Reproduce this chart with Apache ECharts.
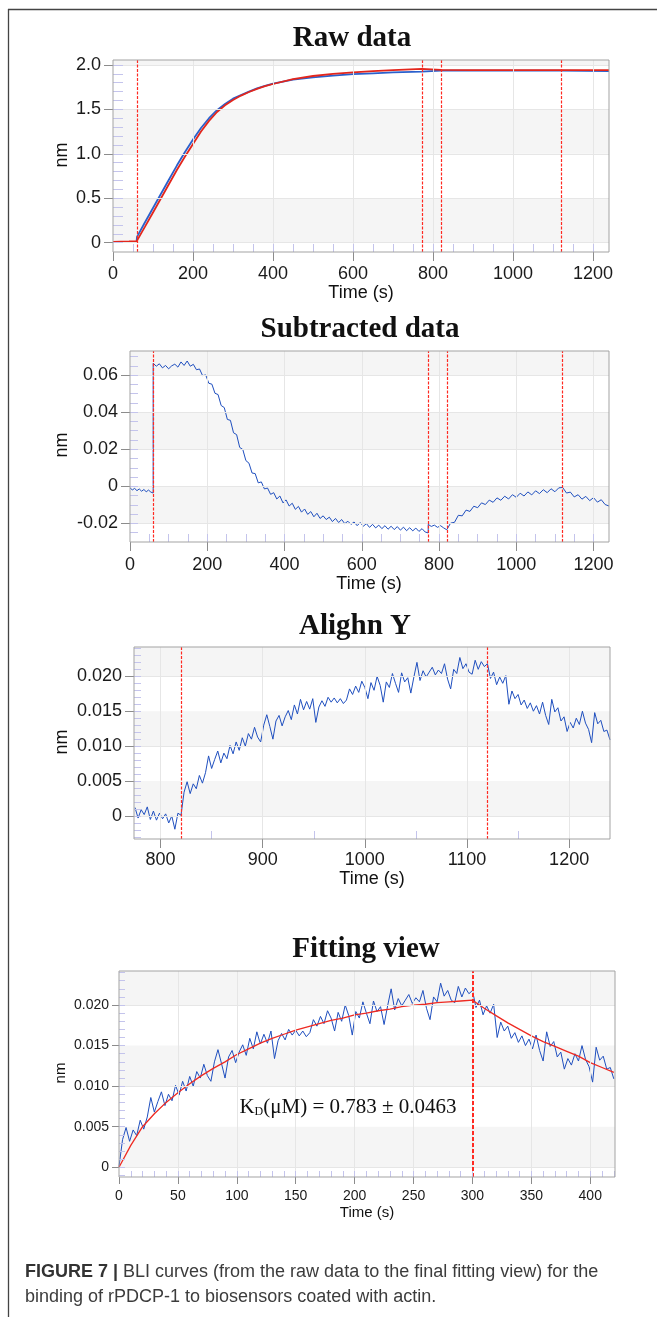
<!DOCTYPE html>
<html>
<head>
<meta charset="utf-8">
<script src="https://cdn.jsdelivr.net/npm/echarts@6/dist/echarts.min.js"></script>
<style>
  html, body { margin: 0; padding: 0; background: #fff; }
  #main { width: 657px; height: 1317px; }
</style>
</head>
<body>
<div id="main"></div>
<script>
// ---- Raw data (two sensors) ----
const rawTime = [0, 20, 40, 59, 60, 80, 100, 120, 140, 160, 180, 200, 220, 240, 260, 280, 300, 320, 340, 360,
  380, 400, 450, 500, 550, 600, 650, 700, 772, 773, 820, 900, 1000, 1120, 1240];
const rawBlue = [0.005, 0.008, 0.010, 0.012, 0.065, 0.23, 0.39, 0.55, 0.71, 0.87, 1.02, 1.16, 1.29, 1.40, 1.49, 1.56, 1.62, 1.66, 1.70, 1.735,
  1.765, 1.79, 1.835, 1.86, 1.88, 1.895, 1.905, 1.915, 1.925, 1.935, 1.935, 1.935, 1.935, 1.935, 1.93];
const rawRed = [0.010, 0.012, 0.013, 0.015, 0.020, 0.18, 0.34, 0.50, 0.66, 0.82, 0.97, 1.11, 1.25, 1.37, 1.47, 1.545, 1.605, 1.655, 1.695, 1.73,
  1.76, 1.785, 1.84, 1.875, 1.90, 1.915, 1.93, 1.94, 1.955, 1.945, 1.945, 1.94, 1.94, 1.94, 1.94];

// ---- Subtracted data, in four recorded steps (start time, sample step) ----
const subStarts = [0, 60, 772, 820];
const subSteps = [6, 8, 8, 10];
const subBaseline = [-0.0008, -0.0019, -0.0011, -0.0023, -0.0014, -0.0026, -0.0017, -0.0029, -0.0020, -0.0031, -0.0036];
const subLoading = [
  0.0664, 0.0648, 0.0661, 0.0639, 0.0652, 0.0634, 0.0650, 0.0659, 0.0643, 0.0671,
  0.0652, 0.0676, 0.0648, 0.0658, 0.0629, 0.0633, 0.0597, 0.0601, 0.0556, 0.0551,
  0.0502, 0.0495, 0.0436, 0.0425, 0.0361, 0.0356, 0.0289, 0.0279, 0.0210, 0.0199,
  0.0139, 0.0125, 0.0072, 0.0069, 0.0019, 0.0024, -0.0014, -0.0009, -0.0043, -0.0034,
  -0.0068, -0.0052, -0.0089, -0.0073, -0.0106, -0.0091, -0.0124, -0.0108, -0.0139, -0.0122,
  -0.0151, -0.0136, -0.0164, -0.0145, -0.0173, -0.0159, -0.0179, -0.0166, -0.0190, -0.0173,
  -0.0195, -0.0179, -0.0201, -0.0188, -0.0205, -0.0192, -0.0212, -0.0195, -0.0215, -0.0201,
  -0.0221, -0.0205, -0.0224, -0.0209, -0.0228, -0.0212, -0.0231, -0.0215, -0.0233, -0.0217,
  -0.0236, -0.0220, -0.0239, -0.0223, -0.0240, -0.0225, -0.0243, -0.0228, -0.0246, -0.0251];
const subBaseline2 = [-0.0205, -0.0216, -0.0209, -0.0221, -0.0212, -0.0224, -0.0234];
const subAssocDissoc = [
  -0.0233, -0.0198, -0.0194, -0.0156, -0.0159, -0.0128, -0.0135, -0.0107, -0.0115, -0.0089,
  -0.0098, -0.0074, -0.0086, -0.0062, -0.0075, -0.0053, -0.0068, -0.0045, -0.0059, -0.0037,
  -0.0052, -0.0030, -0.0046, -0.0024, -0.0039, -0.0018, -0.0034, -0.0013, -0.0029, -0.0008,
  -0.0006, -0.0036, -0.0031, -0.0057, -0.0045, -0.0069, -0.0054, -0.0077, -0.0061, -0.0085,
  -0.0072, -0.0098, -0.0106];

// ---- Align Y (775 s .. 1240 s, every 3 s) ----
const alignStart = 775;
const alignStep = 3;
const alignY = [
  0.0012, -0.0003, 0.0009, 0.0002, 0.0013, -0.0005, 0.0007, -0.0006, 0.0004, -0.0004,
  0.0003, -0.0010, 0.0000, -0.0019, 0.0004, 0.0001, 0.0034, 0.0049, 0.0032, 0.0046,
  0.0039, 0.0058, 0.0047, 0.0062, 0.0086, 0.0068, 0.0081, 0.0093, 0.0076, 0.0090,
  0.0082, 0.0101, 0.0089, 0.0106, 0.0094, 0.0112, 0.0100, 0.0118, 0.0110, 0.0127,
  0.0113, 0.0106, 0.0130, 0.0145, 0.0128, 0.0110, 0.0136, 0.0144, 0.0129, 0.0142,
  0.0151, 0.0138, 0.0159, 0.0146, 0.0167, 0.0152, 0.0164, 0.0153, 0.0168, 0.0134,
  0.0156, 0.0165, 0.0157, 0.0170, 0.0163, 0.0169, 0.0162, 0.0168, 0.0161, 0.0166,
  0.0182, 0.0174, 0.0186, 0.0177, 0.0193, 0.0184, 0.0168, 0.0191, 0.0180, 0.0200,
  0.0187, 0.0163, 0.0192, 0.0184, 0.0204, 0.0190, 0.0177, 0.0205, 0.0192, 0.0198,
  0.0176, 0.0199, 0.0220, 0.0194, 0.0208, 0.0199, 0.0206, 0.0213, 0.0202, 0.0209,
  0.0204, 0.0218, 0.0196, 0.0182, 0.0210, 0.0204, 0.0227, 0.0211, 0.0218, 0.0206,
  0.0203, 0.0223, 0.0210, 0.0221, 0.0214, 0.0218, 0.0197, 0.0206, 0.0188, 0.0199,
  0.0190, 0.0201, 0.0160, 0.0179, 0.0168, 0.0174, 0.0159, 0.0166, 0.0154, 0.0162,
  0.0150, 0.0158, 0.0146, 0.0163, 0.0144, 0.0131, 0.0167, 0.0149, 0.0155, 0.0136,
  0.0142, 0.0121, 0.0134, 0.0126, 0.0140, 0.0131, 0.0150, 0.0133, 0.0124, 0.0105,
  0.0148, 0.0132, 0.0137, 0.0121, 0.0123, 0.0109];

// ---- Fitting view: association starts at 820 s ----
const assocStart = 820;
const fitTime = [0, 10, 20, 30, 40, 50, 60, 70, 80, 90, 100, 110, 120, 130, 140, 150, 160, 170, 180, 190,
  200, 210, 220, 230, 240, 250, 260, 270, 280, 290, 300, 310, 320, 330, 340, 350, 360, 370, 380, 390,
  400, 410, 420];
const fitNm = [0.0000, 0.0027, 0.0050, 0.0066, 0.0080, 0.0092, 0.0103, 0.0113, 0.0122, 0.0130,
  0.0139, 0.0146, 0.0153, 0.0159, 0.0164, 0.0169, 0.0173, 0.0177, 0.0181, 0.0184,
  0.0188, 0.0190, 0.0193, 0.0195, 0.0198, 0.0200, 0.0201, 0.0203, 0.0204, 0.0205,
  0.0206, 0.0196, 0.0187, 0.0178, 0.0170, 0.0162, 0.0155, 0.0149, 0.0143, 0.0137,
  0.0129, 0.0123, 0.0117];

// ---- tick labels ----
const longXTicks = [0, 200, 400, 600, 800, 1000, 1200];
const alignXTicks = [800, 900, 1000, 1100, 1200];
const fitXTicks = [0, 50, 100, 150, 200, 250, 300, 350, 400];
const rawYTicks = [0, 0.5, 1, 1.5, 2];
const rawYLabels = ['0', '0.5', '1.0', '1.5', '2.0'];
const subYTicks = [-0.02, 0, 0.02, 0.04, 0.06];
const subYLabels = ['-0.02', '0', '0.02', '0.04', '0.06'];
const smallYTicks = [0, 0.005, 0.01, 0.015, 0.02];
const smallYLabels = ['0', '0.005', '0.010', '0.015', '0.020'];

// step markers (red vertical lines)
const rawSteps = [60, 773, 820, 1120];
const alignSteps = [820, 1120];
const fitSteps = [300];

const SANS = '"Liberation Sans", Arial, sans-serif';
const SERIF = '"Liberation Serif", "Times New Roman", serif';
const BAND = '#f5f5f5';
const GRIDC = '#e6e6e6';
const LAV = '#c4c4ec';
const RED = '#ff2a22';
const BLUE = '#1f4fbf';

function steps(a, b, d) {
  const out = [];
  for (let v = a; v <= b + d / 2; v += d) out.push(+v.toFixed(6));
  return out;
}
function segment(start, step, vals) {
  return vals.map((v, i) => [start + i * step, v]);
}

const subData = [].concat(
  segment(subStarts[0], subSteps[0], subBaseline),
  segment(subStarts[1], subSteps[1], subLoading),
  segment(subStarts[2], subSteps[2], subBaseline2),
  segment(subStarts[3], subSteps[3], subAssocDissoc));
const alignData = segment(alignStart, alignStep, alignY);
const fitBlue = alignY.slice((assocStart - alignStart) / alignStep).map((v, i) => [i * alignStep, v]);
const fitRed = fitTime.map((t, i) => [t, fitNm[i]]);

const panels = [
  { grid: {left: 113, top: 60, width: 496, height: 192}, x: [0, 1240], y: [-0.105, 2.055],
    xTicks: longXTicks, yTicks: rawYTicks, yLabels: rawYLabels,
    xMinor: steps(50, 1200, 50), yMinor: steps(0, 2, 0.1), minorX: 8, minorY: 10,
    gray: [[0, 0.5], [1, 1.5], [2, 2.055]], vGrid: [200, 400, 600, 800, 1000, 1200],
    marks: rawSteps, fs: 18, tick: 9, xMargin: 13, yMargin: 12,
    series: [
      {data: rawTime.map((t, i) => [t, rawBlue[i]]), color: '#2a60cc', width: 1.8},
      {data: rawTime.map((t, i) => [t, rawRed[i]]), color: '#e3261c', width: 1.8}
    ] },
  { grid: {left: 130, top: 351, width: 479, height: 191}, x: [0, 1240], y: [-0.03, 0.073],
    xTicks: longXTicks, yTicks: subYTicks, yLabels: subYLabels,
    xMinor: steps(50, 1200, 50), yMinor: steps(-0.025, 0.07, 0.005), minorX: 8, minorY: 8,
    gray: [[-0.02, 0], [0.02, 0.04], [0.06, 0.073]], vGrid: [200, 400, 600, 800, 1000, 1200],
    marks: rawSteps, fs: 18, tick: 9, xMargin: 14, yMargin: 12,
    series: [{data: subData, color: BLUE, width: 1}] },
  { grid: {left: 134, top: 647, width: 476, height: 192}, x: [774, 1240], y: [-0.0033, 0.0242],
    xTicks: alignXTicks, yTicks: smallYTicks, yLabels: smallYLabels,
    xMinor: [850, 950, 1050, 1150], yMinor: steps(-0.003, 0.024, 0.001), minorX: 8, minorY: 7,
    gray: [[0, 0.005], [0.01, 0.015], [0.02, 0.0242]], vGrid: [800, 900, 1000, 1100, 1200],
    marks: alignSteps, fs: 18, tick: 9, xMargin: 12, yMargin: 12,
    series: [{data: alignData, color: BLUE, width: 1}] },
  { grid: {left: 119, top: 971, width: 496, height: 206}, x: [0, 421], y: [-0.0012, 0.0242],
    xTicks: fitXTicks, yTicks: smallYTicks, yLabels: smallYLabels,
    xMinor: steps(10, 420, 10), yMinor: steps(-0.001, 0.024, 0.001), minorX: 6, minorY: 6,
    gray: [[0, 0.005], [0.01, 0.015], [0.02, 0.0242]], vGrid: [50, 100, 150, 200, 250, 300, 350, 400],
    marks: fitSteps, markWidth: 2, markType: [4, 2], fs: 14, tick: 7, xMargin: 12, yMargin: 10,
    series: [
      {data: fitBlue, color: BLUE, width: 1},
      {data: fitRed, color: '#ee2a22', width: 1.3}
    ] }
];

const grids = [], xAxes = [], yAxes = [], series = [];

panels.forEach((p, i) => {
  grids.push(Object.assign({show: true, z: 10, borderColor: '#a3a3a3', borderWidth: 1, backgroundColor: 'transparent'}, p.grid));
  const labelOf = (ticks, labels) => v => {
    const k = ticks.findIndex(t => Math.abs(t - v) < 1e-9);
    return k < 0 ? '' : (labels ? labels[k] : String(ticks[k]));
  };
  const common = {type: 'value', gridIndex: i, z: 8, splitLine: {show: false}, splitArea: {show: false}};
  xAxes.push(Object.assign({}, common, {
    min: p.x[0], max: p.x[1], position: 'bottom',
    axisLine: {show: false, onZero: false},
    axisTick: {show: true, length: p.tick, lineStyle: {color: '#8c8c8c'}, customValues: p.xTicks},
    axisLabel: {show: true, customValues: p.xTicks, margin: p.xMargin, fontSize: p.fs,
      fontFamily: SANS, color: '#1a1a1a', formatter: labelOf(p.xTicks)}
  }));
  xAxes.push(Object.assign({}, common, {
    min: p.x[0], max: p.x[1], position: 'bottom',
    axisLine: {show: false, onZero: false},
    axisTick: {show: true, inside: true, length: p.minorX, lineStyle: {color: LAV}, customValues: p.xMinor},
    axisLabel: {show: false}
  }));
  yAxes.push(Object.assign({}, common, {
    min: p.y[0], max: p.y[1], position: 'left',
    axisLine: {show: false, onZero: false},
    axisTick: {show: true, length: p.tick, lineStyle: {color: '#8c8c8c'}, customValues: p.yTicks},
    axisLabel: {show: true, customValues: p.yTicks, margin: p.yMargin, fontSize: p.fs,
      fontFamily: SANS, color: '#1a1a1a', formatter: labelOf(p.yTicks, p.yLabels)}
  }));
  yAxes.push(Object.assign({}, common, {
    min: p.y[0], max: p.y[1], position: 'left',
    axisLine: {show: false, onZero: false},
    axisTick: {show: true, inside: true, length: p.minorY, lineStyle: {color: LAV}, customValues: p.yMinor},
    axisLabel: {show: false}
  }));

  const xi = 2 * i, yi = 2 * i;
  // bands and grid lines
  series.push({
    type: 'line', xAxisIndex: xi, yAxisIndex: yi, data: [], silent: true, z: 1,
    markArea: {silent: true, itemStyle: {color: BAND},
      data: p.gray.map(g => [{xAxis: p.x[0], yAxis: g[0]}, {xAxis: p.x[1], yAxis: g[1]}])},
    markLine: {silent: true, symbol: ['none', 'none'], label: {show: false},
      lineStyle: {color: GRIDC, width: 1, type: 'solid'},
      data: p.yTicks.map(v => ({yAxis: v})).concat(p.vGrid.map(v => ({xAxis: v})))}
  });
  p.series.forEach((s, k) => {
    series.push({
      type: 'line', xAxisIndex: xi, yAxisIndex: yi, data: s.data, silent: true, z: 3 + k,
      showSymbol: false, symbol: 'none', animation: false,
      lineStyle: {color: s.color, width: s.width}
    });
  });
  // step markers
  series.push({
    type: 'line', xAxisIndex: xi, yAxisIndex: yi, data: [], silent: true, z: 6,
    color: RED,
    markLine: {silent: true, symbol: ['none', 'none'], label: {show: false},
      itemStyle: {color: RED},
      lineStyle: {color: RED, opacity: 1, width: p.markWidth || 1.2, type: p.markType || [3, 1.5]},
      emphasis: {disabled: true},
      data: p.marks.map(v => ({xAxis: v, lineStyle: {color: RED}}))}
  });
});

function txt(x, y, text, size, family, extra) {
  return {type: 'text', x: x, y: y, silent: true, z: 20, rotation: (extra && extra.rot) || 0,
    style: Object.assign({text: text, fontSize: size, fontFamily: family, fill: '#111',
      align: 'center', verticalAlign: 'middle', textAlign: 'center', textVerticalAlign: 'middle'},
      extra && extra.style)};
}

const graphics = [
  {type: 'line', silent: true, shape: {x1: 8, y1: 9.5, x2: 657, y2: 9.5}, style: {stroke: '#444', lineWidth: 1.3}},
  {type: 'line', silent: true, shape: {x1: 8.5, y1: 9, x2: 8.5, y2: 1317}, style: {stroke: '#444', lineWidth: 1.3}},
  txt(352, 39, 'Raw data', 29, SERIF, {style: {fontWeight: 'bold'}}),
  txt(360, 330, 'Subtracted data', 29, SERIF, {style: {fontWeight: 'bold'}}),
  txt(355, 627, 'Alighn Y', 29, SERIF, {style: {fontWeight: 'bold'}}),
  txt(366, 950, 'Fitting view', 29, SERIF, {style: {fontWeight: 'bold'}}),
  txt(361, 293, 'Time (s)', 18, SANS),
  txt(369, 584, 'Time (s)', 18, SANS),
  txt(372, 879, 'Time (s)', 18, SANS),
  txt(367, 1213, 'Time (s)', 15, SANS),
  txt(62, 155, 'nm', 18, SANS, {rot: Math.PI / 2}),
  txt(62, 445, 'nm', 18, SANS, {rot: Math.PI / 2}),
  txt(62, 742, 'nm', 18, SANS, {rot: Math.PI / 2}),
  txt(61, 1073, 'nm', 15, SANS, {rot: Math.PI / 2}),
  txt(348, 1107, '{k|K}{d|D}{r|(\u03bcM) = 0.783 \u00b1 0.0463}', 21, SERIF, {style: {
    rich: {
      k: {fontSize: 21, fontFamily: SERIF, fill: '#111', verticalAlign: 'bottom'},
      d: {fontSize: 12, fontFamily: SERIF, fill: '#111', verticalAlign: 'bottom'},
      r: {fontSize: 21, fontFamily: SERIF, fill: '#111', verticalAlign: 'bottom'}
    }}}),
  {type: 'text', x: 25, y: 1272, silent: true, z: 20, style: {
    text: '{b|FIGURE 7 |} BLI curves (from the raw data to the final fitting view) for the',
    fontSize: 18, fontFamily: SANS, fill: '#3c3c3c', align: 'left', verticalAlign: 'middle',
    textAlign: 'left', textVerticalAlign: 'middle',
    rich: {b: {fontSize: 18, fontFamily: SANS, fontWeight: 'bold', fill: '#333'}}}},
  {type: 'text', x: 25, y: 1297, silent: true, z: 20, style: {
    text: 'binding of rPDCP-1 to biosensors coated with actin.',
    fontSize: 18, fontFamily: SANS, fill: '#3c3c3c', align: 'left', verticalAlign: 'middle',
    textAlign: 'left', textVerticalAlign: 'middle'}}
];

const chart = echarts.init(document.getElementById('main'), null, {renderer: 'canvas'});
chart.setOption({
  animation: false,
  backgroundColor: '#fff',
  grid: grids,
  xAxis: xAxes,
  yAxis: yAxes,
  series: series,
  graphic: graphics
});
</script>
</body>
</html>
